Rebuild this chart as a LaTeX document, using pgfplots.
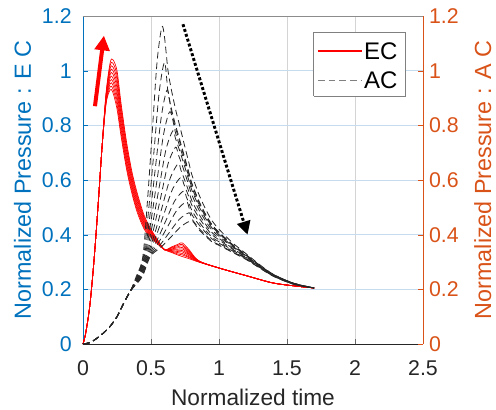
\documentclass[border=0pt]{standalone}
\usepackage{fontspec}
\setmainfont{Liberation Sans}
\usepackage{pgfplots}
\usepackage{pgfplotstable}
\pgfplotsset{compat=1.18}
\usetikzlibrary{arrows.meta}
\definecolor{mblue}{HTML}{0072BD}
\definecolor{morange}{HTML}{D95319}
\definecolor{mgray}{HTML}{262626}
\definecolor{gridblue}{HTML}{C6DCEE}
\definecolor{gridgray}{HTML}{D4D4D4}

\pgfplotstableread{
x r0 r1 r2 r3 r4 r5 r6 r7 r8 r9
0.00 0 0 0 0 0 0 0 0 0 0
0.02 0.04 0.04 0.04 0.04 0.04 0.04 0.04 0.04 0.04 0.04
0.05 0.14 0.14 0.14 0.14 0.14 0.14 0.14 0.14 0.14 0.14
0.08 0.30 0.30 0.30 0.30 0.30 0.30 0.30 0.30 0.30 0.30
0.11 0.50 0.50 0.50 0.50 0.50 0.50 0.50 0.50 0.50 0.50
0.14 0.72 0.72 0.72 0.72 0.72 0.72 0.72 0.72 0.72 0.72
0.17 0.880 0.884 0.889 0.893 0.898 0.902 0.907 0.911 0.916 0.920
0.20 0.930 0.941 0.952 0.963 0.974 0.986 0.997 1.008 1.019 1.030
0.22 0.920 0.933 0.947 0.960 0.973 0.987 1.000 1.013 1.027 1.040
0.25 0.860 0.876 0.891 0.907 0.922 0.938 0.953 0.969 0.984 1.000
0.28 0.760 0.773 0.787 0.800 0.813 0.827 0.840 0.853 0.867 0.880
0.32 0.640 0.651 0.662 0.673 0.684 0.696 0.707 0.718 0.729 0.740
0.36 0.550 0.559 0.568 0.577 0.586 0.594 0.603 0.612 0.621 0.630
0.40 0.480 0.488 0.496 0.503 0.511 0.519 0.527 0.534 0.542 0.550
0.45 0.420 0.426 0.431 0.437 0.442 0.448 0.453 0.459 0.464 0.470
0.50 0.390 0.393 0.397 0.400 0.403 0.407 0.410 0.413 0.417 0.420
0.55 0.365 0.367 0.368 0.370 0.372 0.373 0.375 0.377 0.378 0.380
0.60 0.345 0.345 0.345 0.345 0.345 0.345 0.345 0.345 0.345 0.345
0.65 0.335 0.337 0.339 0.342 0.344 0.346 0.348 0.351 0.353 0.355
0.70 0.325 0.329 0.334 0.338 0.343 0.347 0.352 0.356 0.361 0.365
0.73 0.320 0.326 0.331 0.337 0.342 0.348 0.353 0.359 0.364 0.370
0.78 0.312 0.316 0.319 0.323 0.327 0.330 0.334 0.338 0.341 0.345
0.85 0.300 0.301 0.301 0.302 0.302 0.303 0.303 0.304 0.304 0.305
1.00 0.278 0.278 0.278 0.278 0.278 0.278 0.278 0.278 0.278 0.278
1.20 0.250 0.250 0.250 0.250 0.250 0.250 0.250 0.250 0.250 0.250
1.40 0.223 0.223 0.223 0.223 0.223 0.223 0.223 0.223 0.223 0.223
1.60 0.210 0.210 0.210 0.210 0.210 0.210 0.210 0.210 0.210 0.210
1.70 0.205 0.205 0.205 0.205 0.205 0.205 0.205 0.205 0.205 0.205
}\ectable

\begin{document}
\begin{tikzpicture}
\useasboundingbox (-62.25pt,-49.5pt) rectangle (309.75pt,258pt);
\begin{axis}[
  name=main,
  scale only axis, width=255pt, height=246pt,
  xmin=0, xmax=2.5, ymin=0, ymax=1.2,
  xtick={0,0.5,1,1.5,2,2.5},
  ytick={0,0.2,0.4,0.6,0.8,1,1.2},
  axis x line*=bottom, axis y line*=left,
  tick align=inside, major tick length=4pt,
  x axis line style={mgray, line width=0.5pt},
  y axis line style={mblue, line width=0.5pt},
  xtick style={mgray!70}, ytick style={mblue},
  grid=major,
  x grid style={gridgray, line width=0.5pt},
  y grid style={gridblue, line width=0.5pt},
  /pgf/number format/assume math mode=true,
  xticklabel style={font=\fontsize{16}{19}\selectfont, text=mgray, yshift=-9pt},
  yticklabel style={font=\fontsize{16}{19}\selectfont, text=mblue, xshift=-5pt},
  xlabel={Normalized time},
  ylabel={Normalized Pressure : E C},
  xlabel style={font=\fontsize{17}{20}\selectfont, text=mgray, at={(axis description cs:0.5,-0.162)}, anchor=center},
  ylabel style={font=\fontsize{17.5}{20}\selectfont, text=mblue, at={(axis description cs:-0.178,0.5)}, anchor=center},
  clip=false,
]
\addplot[red, line width=0.5pt, smooth, tension=0.5] table[x=x,y=r0] {\ectable};
\addplot[red, line width=0.5pt, smooth, tension=0.5] table[x=x,y=r1] {\ectable};
\addplot[red, line width=0.5pt, smooth, tension=0.5] table[x=x,y=r2] {\ectable};
\addplot[red, line width=0.5pt, smooth, tension=0.5] table[x=x,y=r3] {\ectable};
\addplot[red, line width=0.5pt, smooth, tension=0.5] table[x=x,y=r4] {\ectable};
\addplot[red, line width=0.5pt, smooth, tension=0.5] table[x=x,y=r5] {\ectable};
\addplot[red, line width=0.5pt, smooth, tension=0.5] table[x=x,y=r6] {\ectable};
\addplot[red, line width=0.5pt, smooth, tension=0.5] table[x=x,y=r7] {\ectable};
\addplot[red, line width=0.5pt, smooth, tension=0.5] table[x=x,y=r8] {\ectable};
\addplot[red, line width=0.5pt, smooth, tension=0.5] table[x=x,y=r9] {\ectable};

\pgfplotsset{acstyle/.style={black!85, line width=0.6pt, dash pattern=on 5pt off 3pt, smooth, tension=0.5}}
\addplot[acstyle] coordinates {(0,0) (0.05,0.005) (0.1,0.02) (0.15,0.04) (0.2,0.065) (0.25,0.1) (0.3,0.15) (0.35,0.195) (0.39,0.245) (0.44,0.32) (0.475,0.53) (0.51,0.782) (0.545,1.034) (0.58,1.16) (0.6,1.12) (0.625,1.0) (0.65,0.93) (0.68,0.86) (0.7,0.82) (0.72,0.78) (0.74,0.74) (0.76,0.70) (0.78,0.66) (0.8,0.62) (0.85,0.55) (0.9,0.495) (0.95,0.45) (1.0,0.42) (1.1,0.37) (1.2,0.33) (1.3,0.29) (1.4,0.255) (1.55,0.222) (1.7,0.205)};
\addplot[acstyle] coordinates {(0,0) (0.05,0.005) (0.1,0.02) (0.15,0.04) (0.2,0.065) (0.25,0.1) (0.3,0.15) (0.35,0.195) (0.394,0.245) (0.445,0.32) (0.484,0.498) (0.523,0.711) (0.561,0.924) (0.6,1.03) (0.625,0.921) (0.65,0.861) (0.68,0.801) (0.7,0.767) (0.72,0.732) (0.74,0.697) (0.76,0.661) (0.78,0.625) (0.8,0.589) (0.85,0.526) (0.9,0.476) (0.95,0.436) (1.0,0.409) (1.1,0.364) (1.2,0.326) (1.3,0.288) (1.4,0.254) (1.55,0.222) (1.7,0.205)};
\addplot[acstyle] coordinates {(0,0) (0.05,0.005) (0.1,0.02) (0.15,0.04) (0.2,0.065) (0.25,0.1) (0.3,0.15) (0.35,0.195) (0.398,0.245) (0.45,0.32) (0.493,0.473) (0.535,0.656) (0.578,0.839) (0.62,0.93) (0.65,0.85) (0.68,0.791) (0.7,0.758) (0.72,0.724) (0.74,0.69) (0.76,0.655) (0.78,0.619) (0.8,0.584) (0.85,0.522) (0.9,0.473) (0.95,0.433) (1.0,0.407) (1.1,0.362) (1.2,0.326) (1.3,0.287) (1.4,0.254) (1.55,0.222) (1.7,0.205)};
\addplot[acstyle] coordinates {(0,0) (0.05,0.005) (0.1,0.02) (0.15,0.04) (0.2,0.065) (0.25,0.1) (0.3,0.15) (0.35,0.195) (0.402,0.245) (0.455,0.32) (0.501,0.453) (0.548,0.612) (0.594,0.771) (0.64,0.85) (0.68,0.773) (0.7,0.741) (0.72,0.709) (0.74,0.676) (0.76,0.643) (0.78,0.608) (0.8,0.573) (0.85,0.514) (0.9,0.467) (0.95,0.429) (1.0,0.404) (1.1,0.36) (1.2,0.324) (1.3,0.287) (1.4,0.253) (1.55,0.222) (1.7,0.205)};
\addplot[acstyle] coordinates {(0,0) (0.05,0.005) (0.1,0.02) (0.15,0.04) (0.2,0.065) (0.25,0.1) (0.3,0.15) (0.35,0.195) (0.406,0.245) (0.46,0.32) (0.51,0.435) (0.56,0.573) (0.61,0.711) (0.66,0.78) (0.68,0.752) (0.7,0.723) (0.72,0.693) (0.74,0.661) (0.76,0.629) (0.78,0.596) (0.8,0.563) (0.85,0.506) (0.9,0.461) (0.95,0.424) (1.0,0.4) (1.1,0.358) (1.2,0.323) (1.3,0.286) (1.4,0.253) (1.55,0.222) (1.7,0.205)};
\addplot[acstyle] coordinates {(0,0) (0.05,0.005) (0.1,0.02) (0.15,0.04) (0.2,0.065) (0.25,0.1) (0.3,0.15) (0.35,0.195) (0.41,0.245) (0.465,0.32) (0.519,0.42) (0.573,0.54) (0.626,0.66) (0.68,0.72) (0.7,0.694) (0.72,0.667) (0.74,0.638) (0.76,0.608) (0.78,0.577) (0.8,0.546) (0.85,0.493) (0.9,0.451) (0.95,0.416) (1.0,0.394) (1.1,0.355) (1.2,0.321) (1.3,0.285) (1.4,0.252) (1.55,0.221) (1.7,0.205)};
\addplot[acstyle] coordinates {(0,0) (0.05,0.005) (0.1,0.02) (0.15,0.04) (0.2,0.065) (0.25,0.1) (0.3,0.15) (0.35,0.195) (0.414,0.245) (0.47,0.32) (0.528,0.405) (0.585,0.507) (0.643,0.609) (0.7,0.66) (0.72,0.636) (0.74,0.61) (0.76,0.583) (0.78,0.555) (0.8,0.525) (0.85,0.477) (0.9,0.439) (0.95,0.407) (1.0,0.387) (1.1,0.35) (1.2,0.318) (1.3,0.283) (1.4,0.251) (1.55,0.22) (1.7,0.205)};
\addplot[acstyle] coordinates {(0,0) (0.05,0.005) (0.1,0.02) (0.15,0.04) (0.2,0.065) (0.25,0.1) (0.3,0.15) (0.35,0.195) (0.418,0.245) (0.475,0.32) (0.536,0.393) (0.598,0.48) (0.659,0.567) (0.72,0.61) (0.74,0.587) (0.76,0.562) (0.78,0.536) (0.8,0.508) (0.85,0.464) (0.9,0.429) (0.95,0.399) (1.0,0.381) (1.1,0.347) (1.2,0.316) (1.3,0.282) (1.4,0.25) (1.55,0.22) (1.7,0.205)};
\addplot[acstyle] coordinates {(0,0) (0.05,0.005) (0.1,0.02) (0.15,0.04) (0.2,0.065) (0.25,0.1) (0.3,0.15) (0.35,0.195) (0.422,0.245) (0.48,0.32) (0.545,0.38) (0.61,0.452) (0.675,0.524) (0.74,0.56) (0.76,0.538) (0.78,0.514) (0.8,0.489) (0.85,0.449) (0.9,0.417) (0.95,0.39) (1.0,0.374) (1.1,0.343) (1.2,0.314) (1.3,0.281) (1.4,0.249) (1.55,0.219) (1.7,0.205)};
\addplot[acstyle] coordinates {(0,0) (0.05,0.005) (0.1,0.02) (0.15,0.04) (0.2,0.065) (0.25,0.1) (0.3,0.15) (0.35,0.195) (0.426,0.245) (0.485,0.32) (0.554,0.37) (0.623,0.43) (0.691,0.49) (0.76,0.52) (0.78,0.498) (0.8,0.474) (0.85,0.438) (0.9,0.409) (0.95,0.384) (1.0,0.369) (1.1,0.34) (1.2,0.312) (1.3,0.28) (1.4,0.249) (1.55,0.219) (1.7,0.205)};
\addplot[acstyle] coordinates {(0,0) (0.05,0.005) (0.1,0.02) (0.15,0.04) (0.2,0.065) (0.25,0.1) (0.3,0.15) (0.35,0.195) (0.43,0.245) (0.49,0.32) (0.563,0.36) (0.635,0.408) (0.708,0.456) (0.78,0.48) (0.8,0.458) (0.85,0.425) (0.9,0.399) (0.95,0.376) (1.0,0.363) (1.1,0.337) (1.2,0.31) (1.3,0.278) (1.4,0.248) (1.55,0.219) (1.7,0.205)};
\addplot[acstyle] coordinates {(0,0) (0.05,0.005) (0.1,0.02) (0.15,0.04) (0.2,0.065) (0.25,0.1) (0.3,0.15) (0.35,0.195) (0.434,0.245) (0.495,0.32) (0.571,0.353) (0.648,0.392) (0.724,0.431) (0.8,0.45) (0.85,0.419) (0.9,0.395) (0.95,0.373) (1.0,0.361) (1.1,0.335) (1.2,0.309) (1.3,0.278) (1.4,0.248) (1.55,0.218) (1.7,0.205)};

% annotation arrows
\addplot[red, line width=3pt, -{Triangle[width=11pt,length=11pt]}] coordinates {(0.088,0.87) (0.154,1.128)};
\addplot[black, line width=2.2pt, dash pattern=on 2.2pt off 1.6pt, -{Triangle[width=10pt,length=10pt]}] coordinates {(0.735,1.17) (1.21,0.40)};
\end{axis}

% legend drawn in a separate overlay axis
\begin{axis}[
  scale only axis, width=255pt, height=246pt,
  xmin=0, xmax=1, ymin=0, ymax=1.2,
  hide axis, clip=false,
  xtick=\empty, ytick=\empty,
]
\addplot[draw=black!50, fill=white, line width=0.6pt] coordinates {(0.679,0.9072) (0.947,0.9072) (0.947,1.1412) (0.679,1.1412) (0.679,0.9072)};
\addplot[draw=red, line width=1pt] coordinates {(0.691,1.0716) (0.821,1.0716)};
\addplot[draw=black!50, line width=1pt, dash pattern=on 5pt off 3pt] coordinates {(0.691,0.9648) (0.821,0.9648)};
\node[anchor=west, inner sep=0pt, font=\fontsize{18}{20}\selectfont] at (axis cs:0.826,1.0716) {EC};
\node[anchor=west, inner sep=0pt, font=\fontsize{18}{20}\selectfont] at (axis cs:0.826,0.9648) {AC};
\end{axis}

\begin{axis}[
  scale only axis, width=255pt, height=246pt,
  xmin=0, xmax=2.5, ymin=0, ymax=1.2,
  axis x line*=top, axis y line*=right,
  xtick=\empty,
  ytick={0,0.2,0.4,0.6,0.8,1,1.2},
  tick align=inside, major tick length=4pt,
  x axis line style={black!45, line width=0.5pt},
  y axis line style={morange, line width=0.5pt},
  ytick style={morange},
  /pgf/number format/assume math mode=true,
  yticklabel style={font=\fontsize{16}{19}\selectfont, text=morange, xshift=1pt},
  ylabel={Normalized Pressure : A C},
  ylabel style={font=\fontsize{17.5}{20}\selectfont, text=morange, at={(axis description cs:1.176,0.5)}, anchor=center},
]
\end{axis}
\end{tikzpicture}
\end{document}
